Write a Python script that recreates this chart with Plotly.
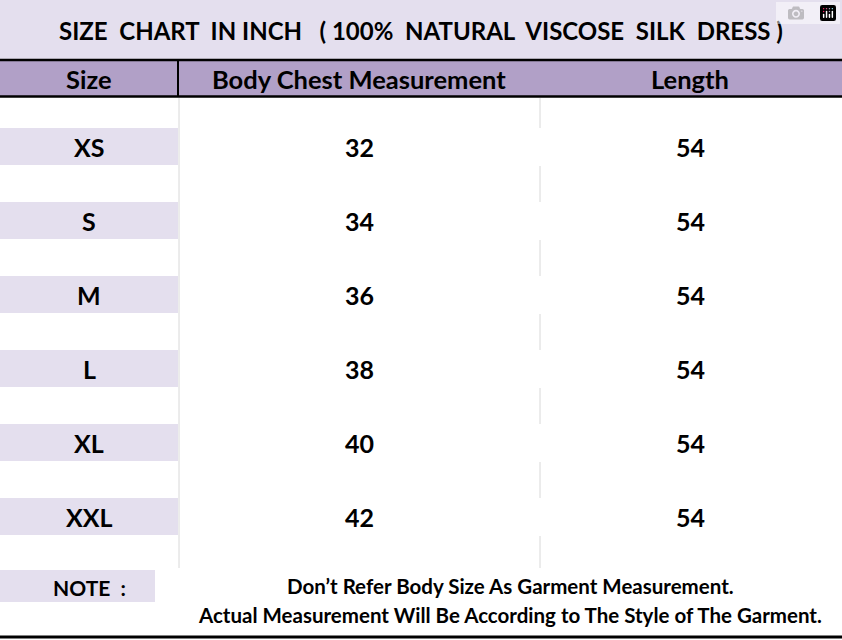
import plotly.graph_objects as go

# table contents
title = "SIZE  CHART  IN INCH   ( 100%  NATURAL  VISCOSE  SILK  DRESS )"
headers = ["Size", "Body Chest Measurement", "Length"]
sizes = ["XS", "S", "M", "L", "XL", "XXL"]
chest = [32, 34, 36, 38, 40, 42]
length = [54, 54, 54, 54, 54, 54]
note_label = "NOTE  :"
note_lines = ["Don’t Refer Body Size As Garment Measurement.",
              "Actual Measurement Will Be According to The Style of The Garment."]

W, H = 842, 640
LAV = "#e4dfee"
PURPLE = "#b1a0c7"
FONT = "Lato"
col_x = [89, 359, 690]
row_y = [147 + 74 * i for i in range(len(sizes))]

fig = go.Figure()
shapes = []
ann = []

# title band
shapes.append(dict(type="rect", x0=0, x1=W, y0=0, y1=59, fillcolor=LAV, line_width=0))
ann.append(dict(x=421, y=30, text=title, font=dict(size=24, color="black", family=FONT)))
# header
shapes.append(dict(type="rect", x0=0, x1=W, y0=60, y1=96, fillcolor=PURPLE, line_width=0))
shapes.append(dict(type="line", x0=0, x1=W, y0=60, y1=60, line=dict(color="black", width=2.5)))
shapes.append(dict(type="line", x0=0, x1=W, y0=96.5, y1=96.5, line=dict(color="black", width=2.5)))
shapes.append(dict(type="line", x0=178, x1=178, y0=60, y1=96, line=dict(color="black", width=2)))
for x, h in zip(col_x, headers):
    ann.append(dict(x=x, y=79, text=h, font=dict(size=25.5, color="black", family=FONT)))

# faint column separators
shapes.append(dict(type="line", x0=179, x1=179, y0=98, y1=568, line=dict(color="#d8d8d8", width=1)))
gaps = [98] + [y + 19 for y in row_y]
for i, g in enumerate(gaps):
    end = row_y[i] - 19 if i < len(row_y) else 568
    shapes.append(dict(type="line", x0=540, x1=540, y0=g, y1=end, line=dict(color="#d8d8d8", width=1)))

# rows
for y, s, c, l in zip(row_y, sizes, chest, length):
    shapes.append(dict(type="rect", x0=0, x1=178, y0=y - 19, y1=y + 18, fillcolor=LAV, line_width=0))
    for x, t in zip(col_x, [s, c, l]):
        ann.append(dict(x=x, y=y, text=f"<b>{t}</b>", font=dict(size=25, color="black", family=FONT)))

# note
shapes.append(dict(type="rect", x0=0, x1=155, y0=570, y1=602, fillcolor=LAV, line_width=0))
ann.append(dict(x=89, y=587, text=f"<b>{note_label}</b>", font=dict(size=21, color="black", family=FONT)))
ann.append(dict(x=510, y=586, text=f"<b>{note_lines[0]}</b>", font=dict(size=20.5, color="black", family=FONT)))
ann.append(dict(x=510, y=615, text=f"<b>{note_lines[1]}</b>", font=dict(size=20.5, color="black", family=FONT)))
shapes.append(dict(type="line", x0=0, x1=W, y0=637, y1=637, line=dict(color="black", width=3)))

for a in ann:
    a.update(xref="x", yref="y", showarrow=False, xanchor="center", yanchor="middle")
    if not a["text"].startswith("<b>"):
        a["text"] = f"<b>{a['text']}</b>"

fig.update_layout(
    width=W, height=H, margin=dict(l=0, r=0, t=0, b=0),
    paper_bgcolor="white", plot_bgcolor="white",
    xaxis=dict(range=[0, W], visible=False, fixedrange=True),
    yaxis=dict(range=[H, 0], visible=False, fixedrange=True),
    shapes=shapes, annotations=ann, showlegend=False,
)
fig.write_html("out.html", post_script="document.body.style.margin='0';")
